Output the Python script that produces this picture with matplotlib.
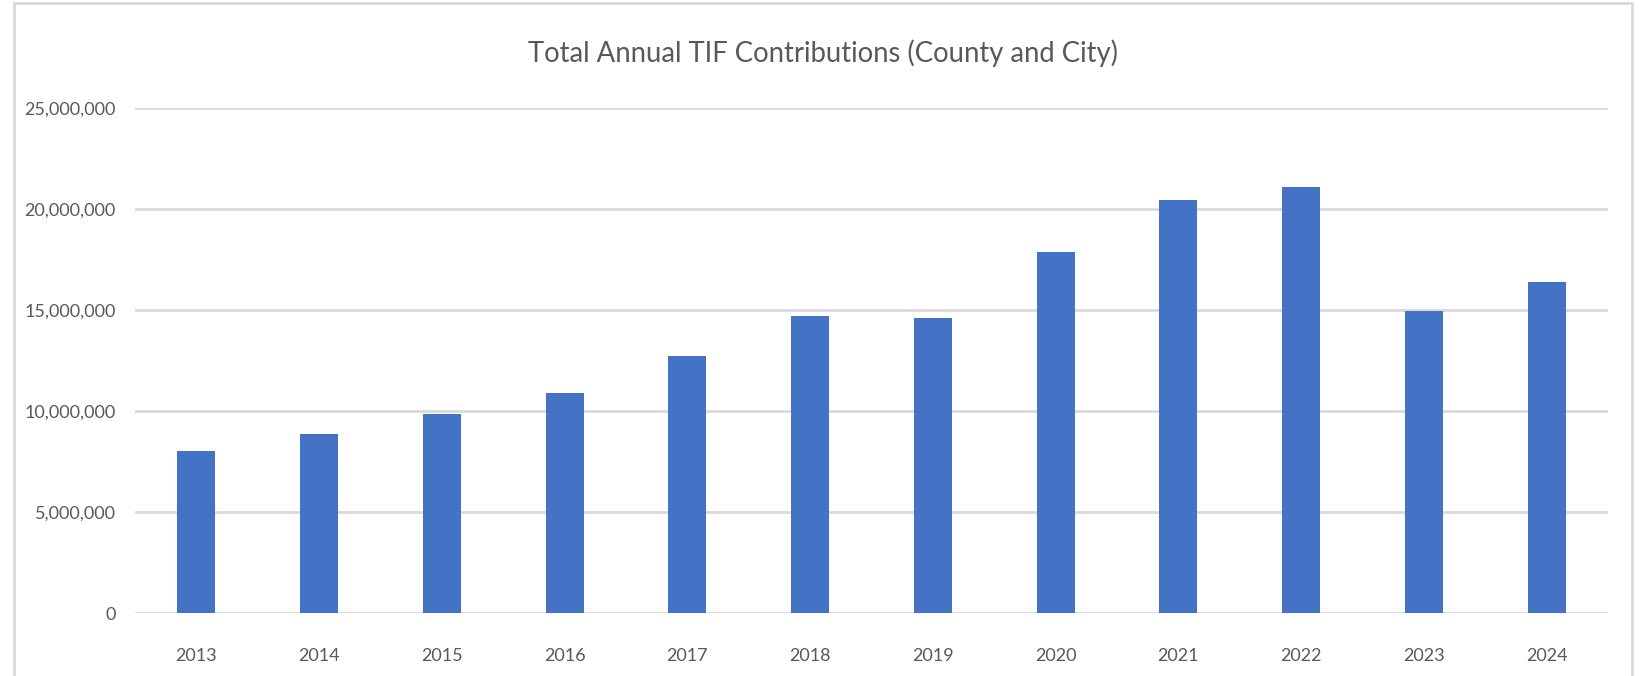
import matplotlib
matplotlib.use("Agg")
import matplotlib.pyplot as plt
from matplotlib.patches import Rectangle
from matplotlib.ticker import FuncFormatter

years = ["2013", "2014", "2015", "2016", "2017", "2018",
         "2019", "2020", "2021", "2022", "2023", "2024"]
values = [8040000, 8850000, 9850000, 10920000, 12710000, 14720000,
          14590000, 17890000, 20460000, 21120000, 14980000, 16400000]
yticks = [0, 5000000, 10000000, 15000000, 20000000, 25000000]
title = "Total Annual TIF Contributions (County and City)"

W, H = 1640, 676
fig = plt.figure(figsize=(W / 100, H / 100), dpi=100)
fig.patch.set_facecolor("white")

fam = ["Lato", "DejaVu Sans"]
txt = "#595959"
grid = "#D9D9D9"

ax = fig.add_axes([135 / W, 1 - 613 / H, (1608 - 135) / W, (613 - 108.3) / H])
x = list(range(len(years)))
ax.bar(x, values, width=0.31, color="#4472C4", zorder=3)
ax.set_xlim(-0.5, len(years) - 0.5)
ax.set_ylim(0, 25000000)
ax.set_yticks(yticks)
ax.yaxis.set_major_formatter(FuncFormatter(lambda v, p: f"{int(v):,}"))
ax.set_xticks(x)
ax.set_xticklabels(years)
ax.grid(axis="y", color=grid, linewidth=2, zorder=0)
ax.set_axisbelow(True)
for s in ax.spines.values():
    s.set_visible(False)
ax.tick_params(axis="both", length=0, colors=txt, labelsize=13)
ax.tick_params(axis="y", pad=14)
ax.tick_params(axis="x", pad=25)
for lab in ax.get_xticklabels() + ax.get_yticklabels():
    lab.set_fontfamily(fam)
    lab.set_color(txt)

fig.text(823 / W, 1 - 53 / H, title, ha="center", va="center",
         fontsize=19.8, color=txt, family=fam)

fig.patches.append(Rectangle((14 / W, -0.02), (1632 - 14) / W, 1 - 3 / H + 0.02,
                             transform=fig.transFigure, fill=False,
                             edgecolor=grid, linewidth=2))

fig.savefig("out.png", dpi=100, facecolor="white")
